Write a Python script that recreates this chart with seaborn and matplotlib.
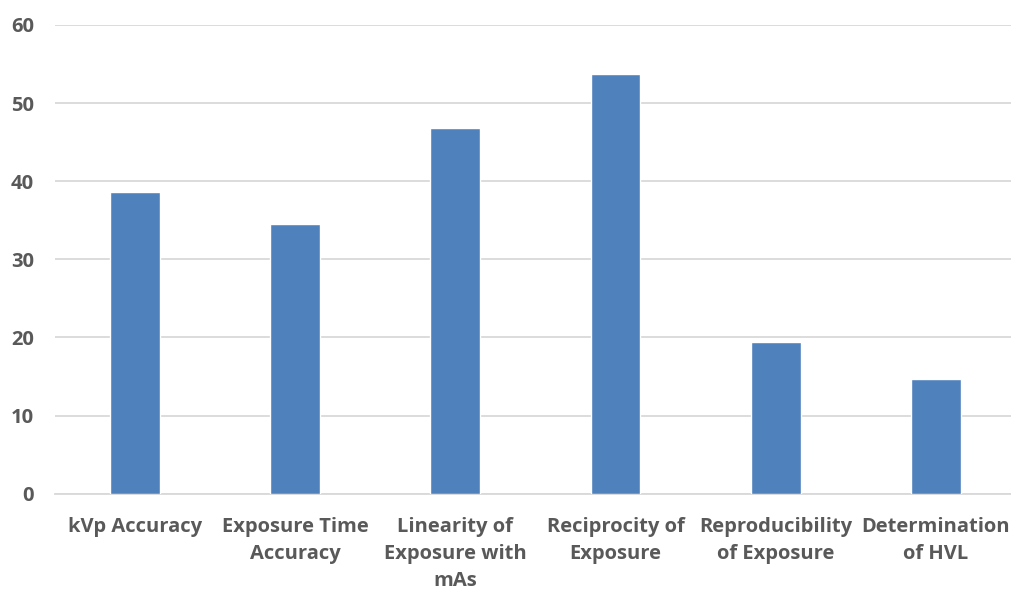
import matplotlib
matplotlib.use("Agg")
import matplotlib.pyplot as plt
import seaborn as sns
import pandas as pd

# ==============================
# Data
# ==============================

categories = [
    "kVp Accuracy",
    "Exposure Time\nAccuracy",
    "Linearity of\nExposure with\nmAs",
    "Reciprocity of\nExposure",
    "Reproducibility\nof Exposure",
    "Determination\nof HVL",
]
values = [38.6, 34.5, 46.8, 53.7, 19.4, 14.7]
y_ticks = [0, 10, 20, 30, 40, 50, 60]

df = pd.DataFrame({"Test": categories, "Value": values})

# ==============================
# Plot
# ==============================

sns.set_theme(style="white")
plt.rcParams['font.family'] = ['Open Sans', 'DejaVu Sans']

fig, ax = plt.subplots(figsize=(10.11, 5.92), dpi=100)
fig.subplots_adjust(left=0.054, right=1.005, top=0.958, bottom=0.166)

sns.barplot(data=df, x="Test", y="Value", color="#4F81BD", saturation=1,
            width=0.31, ax=ax, zorder=3)

ax.set_ylim(0, 60)
ax.set_yticks(y_ticks)
ax.yaxis.grid(True, color="#D9D9D9", linewidth=1.3, zorder=0)
ax.set_xlabel("")
ax.set_ylabel("")
for s in ["top", "right", "left"]:
    ax.spines[s].set_visible(False)
ax.spines["bottom"].set_color("#D9D9D9")
ax.spines["bottom"].set_linewidth(1.3)
ax.tick_params(axis="both", length=0, labelsize=14.5, labelcolor="#595959")
ax.tick_params(axis="x", pad=17)
ax.tick_params(axis="y", pad=15)
for lbl in ax.get_xticklabels() + ax.get_yticklabels():
    lbl.set_fontweight("bold")
for lbl in ax.get_xticklabels():
    lbl.set_linespacing(1.45)

plt.savefig("out.png", dpi=100)
plt.close()
